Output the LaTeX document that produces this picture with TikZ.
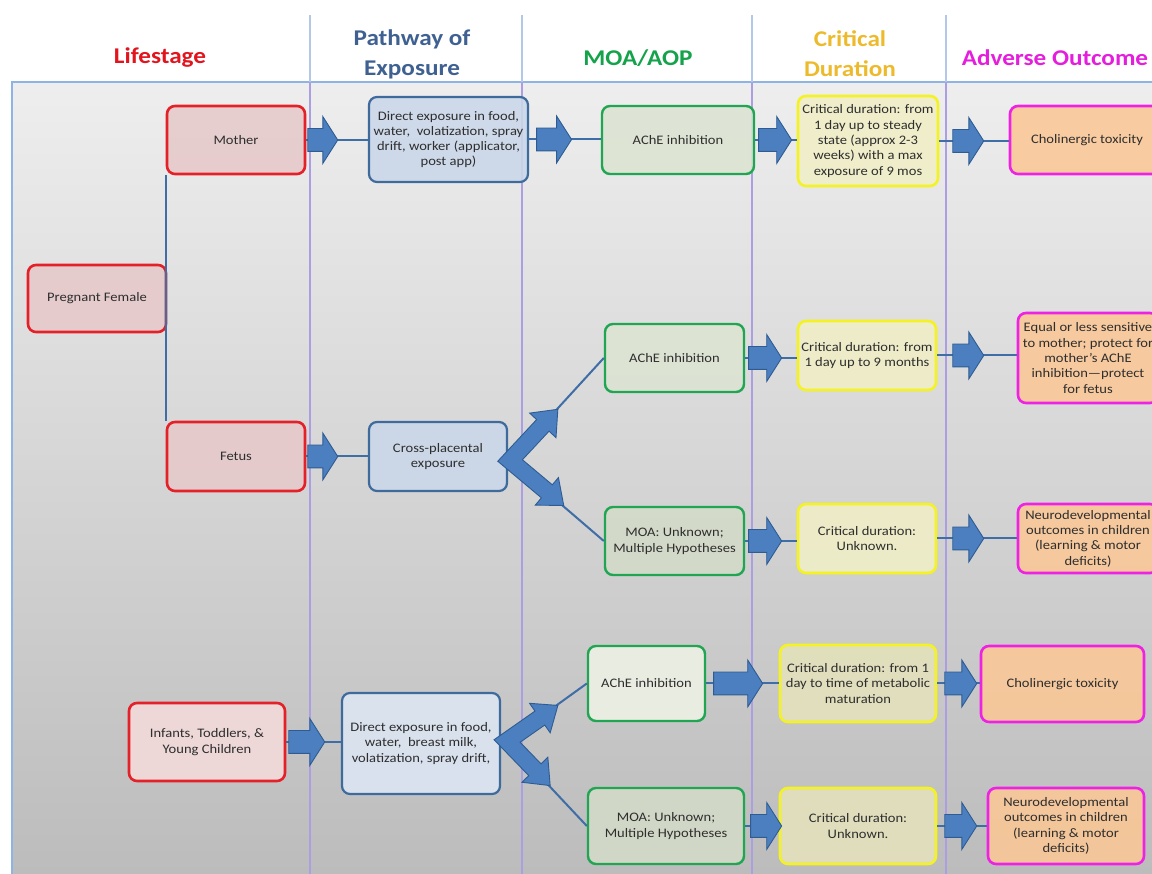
\documentclass[tikz,border=0pt]{standalone}
\usepackage{fontspec}
\setmainfont{Carlito}[FakeStretch=1.12]
\usepackage{tikz}
\usetikzlibrary{arrows.meta,positioning,calc,shapes.arrows}

\definecolor{lifered}{HTML}{E42028}
\definecolor{lifefill}{HTML}{E6C9CA}
\definecolor{lifelight}{HTML}{F3DADA}
\definecolor{pathblue}{HTML}{3E6A9C}
\definecolor{pathfill}{HTML}{CAD7E9}
\definecolor{pathlight}{HTML}{DCE6F3}
\definecolor{moagreen}{HTML}{20A552}
\definecolor{moafill}{HTML}{DCE4D2}
\definecolor{moalight}{HTML}{EEF2E5}
\definecolor{moadark}{HTML}{D4DBC8}
\definecolor{crityellow}{HTML}{F4F222}
\definecolor{critfill}{HTML}{F1EFC6}
\definecolor{critdark}{HTML}{E4E2BB}
\definecolor{advmagenta}{HTML}{EE22E4}
\definecolor{advfill}{HTML}{FBC796}
\definecolor{arrowfill}{HTML}{4C7FC0}
\definecolor{arrowline}{HTML}{2E5C92}
\definecolor{linkblue}{HTML}{3F6DA6}
\definecolor{sepblue}{HTML}{B3C8E8}
\definecolor{sepviolet}{HTML}{AB9FE2}
\definecolor{panelline}{HTML}{8EB4E3}
\definecolor{bgtop}{HTML}{EEEEEE}
\definecolor{bgbot}{HTML}{BCBCBC}
\definecolor{boxtext}{HTML}{2E2E2E}
\definecolor{titlered}{HTML}{E2141E}
\definecolor{titleblue}{HTML}{3F6192}
\definecolor{titlegreen}{HTML}{14A24A}
\definecolor{titlegold}{HTML}{EDBA2C}
\definecolor{titlemagenta}{HTML}{E41EDC}

% chevron with two heads: #1 joint, #2 upper angle, #3 lower angle, #4 length
\newcommand{\forkarrow}[4]{%
  \pgfmathsetmacro{\fkmid}{(#2+#3)/2}%
  \pgfmathsetmacro{\fkout}{\fkmid+180}%
  \pgfmathsetmacro{\fkmit}{8.5/sin((#2-#3)/2)}%
  \pgfmathsetmacro{\fkshaft}{#4-22}%
  \pgfmathsetmacro{\fkua}{#2+90}%
  \pgfmathsetmacro{\fkub}{#2-90}%
  \pgfmathsetmacro{\fkla}{#3+90}%
  \pgfmathsetmacro{\fklb}{#3-90}%
  \draw[forkshape] ($(#1)+(\fkout:\fkmit pt)$)
    -- ($(#1)+(#2:\fkshaft pt)+(\fkua:8.5pt)$)
    -- ($(#1)+(#2:\fkshaft pt)+(\fkua:18pt)$)
    -- ($(#1)+(#2:#4pt)$)
    -- ($(#1)+(#2:\fkshaft pt)+(\fkub:18pt)$)
    -- ($(#1)+(#2:\fkshaft pt)+(\fkub:8.5pt)$)
    -- ($(#1)+(\fkmid:\fkmit pt)$)
    -- ($(#1)+(#3:\fkshaft pt)+(\fkla:8.5pt)$)
    -- ($(#1)+(#3:\fkshaft pt)+(\fkla:18pt)$)
    -- ($(#1)+(#3:#4pt)$)
    -- ($(#1)+(#3:\fkshaft pt)+(\fklb:18pt)$)
    -- ($(#1)+(#3:\fkshaft pt)+(\fklb:8.5pt)$)
    -- cycle;
}

\begin{document}
\begin{tikzpicture}[
  x=1pt, y=1pt,
  font=\fontsize{13}{15.3}\selectfont,
  box/.style={rounded corners=8pt, align=center, inner sep=2pt, line width=2.6pt, text=boxtext, fill opacity=0.88, text opacity=1},
  stagebox/.style={box, draw=lifered, fill=lifefill},
  pathbox/.style={box, draw=pathblue, fill=pathfill, line width=2.2pt},
  moabox/.style={box, draw=moagreen, fill=moafill, line width=2.4pt},
  critbox/.style={box, draw=crityellow, fill=critfill},
  advbox/.style={box, draw=advmagenta, fill=advfill},
  coltitle/.style={font=\fontsize{22.5}{30}\selectfont\bfseries, align=center},
  link/.style={draw=linkblue, line width=2pt},
  blockarrow/.style={single arrow, draw=arrowline, fill=arrowfill, line width=0.9pt, anchor=tail, inner xsep=0pt, inner ysep=11pt, minimum width=46pt, single arrow head extend=12pt, single arrow tip angle=115, minimum height=#1},
  blockarrow/.default=31pt,
  forkshape/.style={draw=arrowline, fill=arrowfill, line width=0.9pt, line join=miter}
]
\useasboundingbox (0,0) rectangle (1152,874);
\shade[top color=bgtop, bottom color=bgbot] (12,0) rectangle (1160,792);
\draw[panelline, line width=1.5pt] (12,0) -- (12,792) -- (1160,792);
\foreach \sx in {310,522,752,946} {
  \draw[sepblue, line width=1.4pt] (\sx,859) -- (\sx,792);
  \draw[sepviolet, line width=1.4pt] (\sx,792) -- (\sx,0);
}

% column titles
\node[coltitle, text=titlered] (tlife) at (160,816) {Lifestage};
\node[coltitle, text=titleblue] (tpath) at (412,820) {Pathway of\\Exposure};
\node[coltitle, text=titlegreen] (tmoa) at (638,816) {MOA/AOP};
\node[coltitle, text=titlegold] (tcrit) at (850,820) {Critical\\Duration};
\node[coltitle, text=titlemagenta] (tadv) at (1055,816) {Adverse Outcome};

% lifestage
\node[stagebox, minimum width=138pt, minimum height=68pt] (mother) at (236,734) {Mother};
\node[stagebox, minimum width=138pt, minimum height=67pt] (pregnant) at (97,575.5) {Pregnant Female};
\node[stagebox, minimum width=138pt, minimum height=69pt] (fetus) at (236,417.5) {Fetus};
\node[stagebox, fill=lifelight, minimum width=156pt, minimum height=78pt] (infants) at (207,132) {Infants, Toddlers, \&\\Young Children};

% pathway of exposure
\node[pathbox, minimum width=159pt, minimum height=85pt] (direct1) at (448.5,734.5) {Direct exposure in food,\\water,\ \ volatization, spray\\drift, worker (applicator,\\post app)};
\node[pathbox, minimum width=138pt, minimum height=69pt] (cross) at (438,417.5) {Cross-placental\\exposure};
\node[pathbox, fill=pathlight, minimum width=158pt, minimum height=101pt] (direct2) at (421,130.5) {Direct exposure in food,\\water,\ \ breast milk,\\volatization, spray drift,};

% MOA/AOP
\node[moabox, minimum width=152pt, minimum height=68pt] (ache1) at (678,734) {AChE inhibition};
\node[moabox, minimum width=139pt, minimum height=68pt] (ache2) at (674.5,516) {AChE inhibition};
\node[moabox, fill=moadark, minimum width=139pt, minimum height=68pt] (moa1) at (674.5,333) {MOA: Unknown;\\Multiple Hypotheses};
\node[moabox, fill=moalight, minimum width=117pt, minimum height=75pt] (ache3) at (646.5,190.5) {AChE inhibition};
\node[moabox, fill=moadark, minimum width=156pt, minimum height=76pt] (moa2) at (666,48) {MOA: Unknown;\\Multiple Hypotheses};

% critical duration
\node[critbox, minimum width=140pt, minimum height=90pt] (crit1) at (868,733) {Critical duration: from\\1 day up to steady\\state (approx 2-3\\weeks) with a max\\exposure of 9 mos};
\node[critbox, minimum width=138pt, minimum height=69pt] (crit2) at (867,518.5) {Critical duration: from\\1 day up to 9 months};
\node[critbox, minimum width=138pt, minimum height=69pt] (crit3) at (867,335.5) {Critical duration:\\Unknown.};
\node[critbox, fill=critdark, minimum width=156pt, minimum height=77pt] (crit4) at (858,190.5) {Critical duration: from 1\\day to time of metabolic\\maturation};
\node[critbox, fill=critdark, minimum width=156pt, minimum height=76pt] (crit5) at (858,48) {Critical duration:\\Unknown.};

% adverse outcome
\node[advbox, minimum width=154pt, minimum height=68pt] (adv1) at (1087,734) {Cholinergic toxicity};
\node[advbox, minimum width=140pt, minimum height=90pt] (adv2) at (1088,516) {Equal or less sensitive\\to mother; protect for\\mother's AChE\\inhibition---protect\\for fetus};
\node[advbox, minimum width=140pt, minimum height=69pt] (adv3) at (1088,335.5) {Neurodevelopmental\\outcomes in children\\(learning \& motor\\deficits)};
\node[advbox, minimum width=163pt, minimum height=76pt] (adv4) at (1062.5,190) {Cholinergic toxicity};
\node[advbox, minimum width=156pt, minimum height=76pt] (adv5) at (1066,48) {Neurodevelopmental\\outcomes in children\\(learning \& motor\\deficits)};

% thin links
\draw[link] (mother.south west) -- (fetus.north west);
\draw[link] (mother.east) -- (mother.east -| direct1.west);
\draw[link] (direct1.east) -- (direct1.east -| ache1.west);
\draw[link] (ache1.east) -- (ache1.east -| crit1.west);
\draw[link] (crit1.east) -- (crit1.east -| adv1.west);
\draw[link] (fetus.east) -- (fetus.east -| cross.west);
\draw[link] (ache2.east) -- (ache2.east -| crit2.west);
\draw[link] (crit2.east) -- (crit2.east -| adv2.west);
\draw[link] (moa1.east) -- (moa1.east -| crit3.west);
\draw[link] (crit3.east) -- (crit3.east -| adv3.west);
\draw[link] (infants.east) -- (infants.east -| direct2.west);
\draw[link] (ache3.east) -- (ache3.east -| crit4.west);
\draw[link] (crit4.east) -- (crit4.east -| adv4.west);
\draw[link] (moa2.east) -- (moa2.east -| crit5.west);
\draw[link] (crit5.east) -- (crit5.east -| adv5.west);

\coordinate (fork1) at ($(cross.east)+(2,-4)$);
\coordinate (fork2) at ($(direct2.east)+(6,2.5)$);
\draw[link] (fork1) -- (ache2.west);
\draw[link] (fork1) -- (moa1.west);
\draw[link] (fork2) -- (ache3.west);
\draw[link] (fork2) -- (moa2.west);

% block arrows
\node[blockarrow=30pt] (am1) at ([xshift=1pt]mother.east) {};
\node[blockarrow=35pt] (am2) at ([xshift=7pt]direct1.east) {};
\node[blockarrow=33pt] (am3) at ([xshift=3pt]ache1.east) {};
\node[blockarrow=31pt] (am4) at ([xshift=13pt]crit1.east) {};
\node[blockarrow=30pt] (af1) at ([xshift=1pt]fetus.east) {};
\node[blockarrow=33pt] (af2) at ([xshift=3pt]ache2.east) {};
\node[blockarrow=31pt] (af3) at ([xshift=15pt]crit2.east) {};
\node[blockarrow=33pt] (af4) at ([xshift=3pt]moa1.east) {};
\node[blockarrow=31pt] (af5) at ([xshift=15pt]crit3.east) {};
\node[blockarrow=36pt] (ai1) at ([xshift=2pt]infants.east) {};
\node[blockarrow=49pt] (ai2) at ([xshift=7pt]ache3.east) {};
\node[blockarrow=32pt] (ai3) at ([xshift=7pt]crit4.east) {};
\node[blockarrow=31pt] (ai4) at ([xshift=5pt]moa2.east) {};
\node[blockarrow=32pt] (ai5) at ([xshift=7pt]crit5.east) {};
\forkarrow{fork1}{47}{-40}{70}
\forkarrow{fork2}{35}{-46}{62}
\end{tikzpicture}
\end{document}
